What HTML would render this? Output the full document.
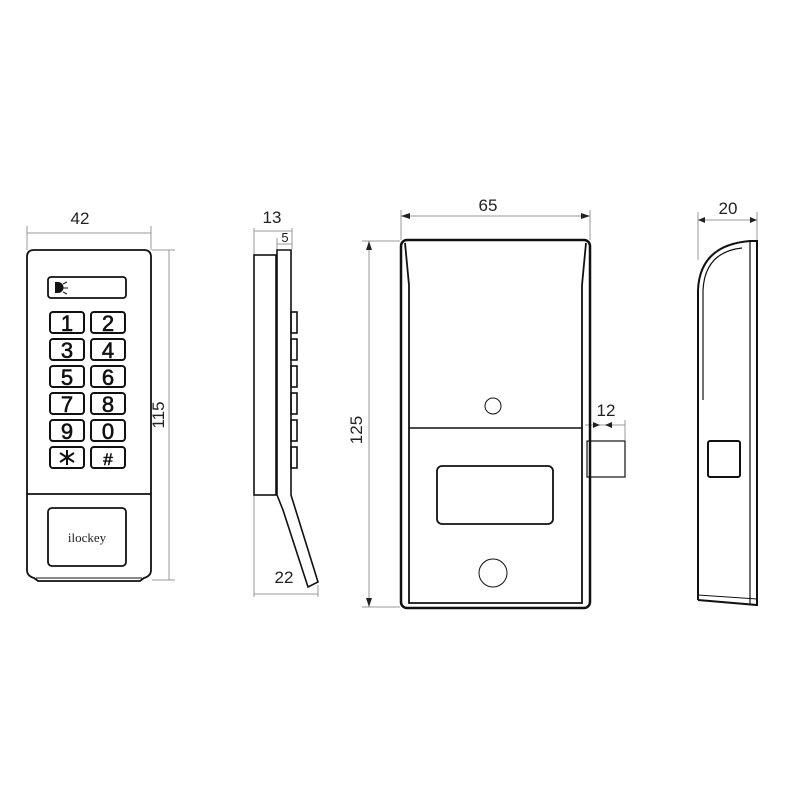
<!DOCTYPE html>
<html><head><style>body{margin:0;background:#fff}svg{display:block}</style></head><body>
<svg width="800" height="800" viewBox="0 0 800 800" xmlns="http://www.w3.org/2000/svg" font-family="Liberation Sans, sans-serif">
<g stroke="#999" stroke-width="1" fill="none">
<line x1="27" y1="233" x2="151" y2="233"/><line x1="27" y1="226" x2="27" y2="250"/><line x1="151" y1="226" x2="151" y2="250"/>
<line x1="169" y1="250" x2="169" y2="580"/><line x1="152" y1="250" x2="175" y2="250"/><line x1="152" y1="580" x2="175" y2="580"/>
<line x1="254" y1="231" x2="292" y2="231"/><line x1="254" y1="228" x2="254" y2="255"/><line x1="292" y1="228" x2="292" y2="249"/>
<line x1="277" y1="244" x2="292" y2="244"/><line x1="277" y1="238" x2="277" y2="250"/>
<line x1="254" y1="594" x2="318" y2="594"/><line x1="254" y1="495" x2="254" y2="597"/><line x1="318" y1="585" x2="318" y2="597"/>
<line x1="401" y1="216" x2="590" y2="216"/><line x1="401" y1="210" x2="401" y2="240"/><line x1="590" y1="210" x2="590" y2="240"/>
<line x1="369" y1="241" x2="369" y2="607"/><line x1="362" y1="241" x2="400" y2="241"/><line x1="362" y1="607" x2="400" y2="607"/>
<line x1="585" y1="425" x2="625" y2="425"/><line x1="625" y1="420" x2="625" y2="440"/>
<line x1="698" y1="220" x2="757" y2="220"/><line x1="698" y1="212" x2="698" y2="260"/><line x1="757" y1="212" x2="757" y2="240"/>
</g>
<g fill="#222">
<polygon points="401,216 410,213 410,219"/><polygon points="590,216 581,213 581,219"/>
<polygon points="369,241 366,250 372,250"/><polygon points="369,607 366,598 372,598"/>
<polygon points="600,425 593,422 593,428"/><polygon points="605,425 612,422 612,428"/>
<polygon points="698,220 705,217 705,223"/><polygon points="757,220 750,217 750,223"/>
</g>
<g font-size="17" fill="#222">
<text x="80" y="224" text-anchor="middle">42</text>
<text transform="translate(164,415) rotate(-90)" text-anchor="middle">115</text>
<text x="272" y="223" text-anchor="middle">13</text>
<text x="285" y="242" text-anchor="middle" font-size="13">5</text>
<text x="284" y="583" text-anchor="middle">22</text>
<text x="488" y="211" text-anchor="middle">65</text>
<text transform="translate(362,430) rotate(-90)" text-anchor="middle">125</text>
<text x="606" y="416" text-anchor="middle">12</text>
<text x="728" y="214" text-anchor="middle">20</text>
</g>
<g stroke="#111" stroke-width="1.8" fill="none">
<path d="M34,250 H144 Q151,250 151,257 V570 Q151,576 144,578 L140,581 H38 L34,578 Q27,576 27,570 V257 Q27,250 34,250 Z"/>
<line x1="27" y1="494" x2="151" y2="494"/>
<line x1="36" y1="578" x2="142" y2="578" stroke-width="1"/>
<rect x="48" y="277" width="78" height="21" rx="3"/>
<rect x="48" y="508" width="78" height="58" rx="4"/>
</g>
<path d="M55,282 h3 a5,5 0 0 1 0,11 h-3z" fill="#111"/>
<g stroke="#111" stroke-width="1"><line x1="63" y1="284" x2="67" y2="282"/><line x1="63" y1="288" x2="68" y2="288"/><line x1="63" y1="292" x2="67" y2="294"/></g>
<text x="87" y="542" text-anchor="middle" font-family="Liberation Serif, serif" font-size="13" fill="#222">ilockey</text>
<g stroke="#111" stroke-width="2" fill="none">
<rect x="50" y="312" width="34" height="21" rx="3"/><rect x="91" y="312" width="34" height="21" rx="3"/>
<rect x="50" y="339" width="34" height="21" rx="3"/><rect x="91" y="339" width="34" height="21" rx="3"/>
<rect x="50" y="366" width="34" height="21" rx="3"/><rect x="91" y="366" width="34" height="21" rx="3"/>
<rect x="50" y="393" width="34" height="21" rx="3"/><rect x="91" y="393" width="34" height="21" rx="3"/>
<rect x="50" y="420" width="34" height="21" rx="3"/><rect x="91" y="420" width="34" height="21" rx="3"/>
<rect x="50" y="447" width="34" height="21" rx="3"/><rect x="91" y="447" width="34" height="21" rx="3"/>
</g>
<g font-size="22" fill="#111" stroke="#111" stroke-width="0.6" text-anchor="middle">
<text x="67" y="331">1</text><text x="108" y="331">2</text>
<text x="67" y="358">3</text><text x="108" y="358">4</text>
<text x="67" y="385">5</text><text x="108" y="385">6</text>
<text x="67" y="412">7</text><text x="108" y="412">8</text>
<text x="67" y="439">9</text><text x="108" y="439">0</text>
<text x="108" y="465" font-size="17">#</text>
</g>
<g stroke="#111" stroke-width="2"><line x1="67" y1="450" x2="67" y2="465"/><line x1="60" y1="453" x2="74" y2="462"/><line x1="74" y1="453" x2="60" y2="462"/></g>
<g stroke="#111" stroke-width="1.6" fill="none">
<rect x="254" y="255" width="22" height="240"/>
<path d="M277,495 V250 H291 V495 L318,582 L308,587 L283,510 L277,495"/>
<rect x="291" y="312" width="6" height="21"/><rect x="291" y="339" width="6" height="21"/>
<rect x="291" y="366" width="6" height="21"/><rect x="291" y="393" width="6" height="21"/>
<rect x="291" y="420" width="6" height="21"/><rect x="291" y="447" width="6" height="21"/>
</g>
<g stroke="#111" fill="none">
<rect x="401" y="240" width="189" height="368" rx="6" stroke-width="2.5"/>
<path d="M405,243 L409,285 V603 H582 V285 L586,243" stroke-width="1.8"/>
<line x1="409" y1="428" x2="582" y2="428" stroke-width="1.5"/>
<rect x="437" y="466" width="116" height="58" rx="5" stroke-width="1.8"/>
<circle cx="493" cy="406" r="8" stroke-width="1"/>
<circle cx="493" cy="573" r="14" stroke-width="1"/>
<rect x="587" y="441" width="38" height="36" stroke-width="1.2"/>
</g>
<g stroke="#111" fill="none">
<path d="M698,600 V290 Q700,245 750,241 H757 V605 L698,600" stroke-width="2"/>
<path d="M703,400 V290 Q705,252 742,248" stroke-width="1.2"/>
<line x1="750" y1="241" x2="750" y2="605" stroke-width="1.2"/>
<line x1="698" y1="595" x2="757" y2="599" stroke-width="1"/>
<rect x="708" y="441" width="32" height="36" rx="2" stroke-width="2"/>
</g>
</svg>
</body></html>
